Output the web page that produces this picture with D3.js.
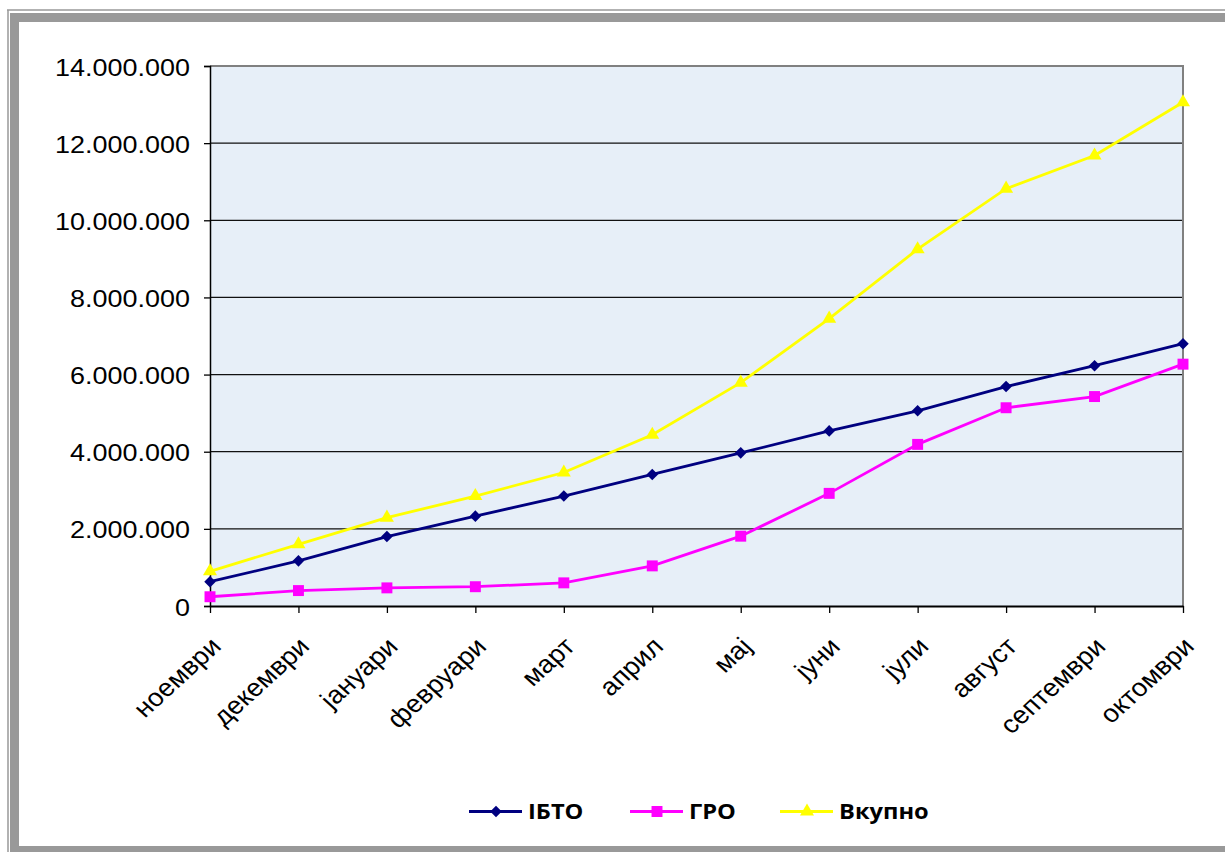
<!DOCTYPE html>
<html>
<head>
<meta charset="utf-8">
<script src="https://cdn.jsdelivr.net/npm/d3@7"></script>
<style>
  html, body { margin: 0; padding: 0; background: #fff; }
  svg { display: block; }
</style>
</head>
<body>
<svg id="chart" width="1225" height="852"></svg>
<script>
// Months on the category axis
const categories = ["ноември", "декември", "јануари", "февруари", "март", "април",
                    "мај", "јуни", "јули", "август", "септември", "октомври"];

// Cumulative values per month
const ibtoValues   = [630000, 1170000, 1800000, 2330000, 2850000, 3410000,
                      3970000, 4540000, 5060000, 5690000, 6230000, 6800000];
const groValues    = [240000, 400000, 470000, 500000, 600000, 1040000,
                      1810000, 2920000, 4190000, 5140000, 5430000, 6270000];
const vkupnoValues = [900000, 1600000, 2290000, 2850000, 3460000, 4440000,
                      5790000, 7450000, 9250000, 10820000, 11680000, 13060000];

const yTicks = [0, 2000000, 4000000, 6000000, 8000000, 10000000, 12000000, 14000000];
const seriesNames = ["ІБТО", "ГРО", "Вкупно"];

const series = [
  { name: seriesNames[0], values: ibtoValues,   color: "#000080", symbol: d3.symbolDiamond2, size: 85 },
  { name: seriesNames[1], values: groValues,    color: "#FF00FF", symbol: d3.symbolSquare,   size: 120 },
  { name: seriesNames[2], values: vkupnoValues, color: "#FFFF00", symbol: d3.symbolTriangle, size: 85 }
];

const svg = d3.select("#chart");
const plot = { left: 210, right: 1183, top: 66, bottom: 606 };
const stretch = 1.1; // horizontal text widening

const x = d3.scalePoint().domain(categories).range([plot.left, plot.right]);
const y = d3.scaleLinear().domain([0, 14000000]).range([plot.bottom, plot.top]);

const locale = d3.formatLocale({ decimal: ",", thousands: ".", grouping: [3], currency: ["", ""] });
const fmt = locale.format(",");

// Outer frame
const frame = svg.append("g");
frame.append("line").attr("x1", 7).attr("x2", 1225).attr("y1", 10).attr("y2", 10)
  .attr("stroke", "#999").attr("stroke-width", 1.5);
frame.append("line").attr("x1", 8).attr("x2", 8).attr("y1", 10).attr("y2", 852)
  .attr("stroke", "#999").attr("stroke-width", 1.5);
frame.append("rect").attr("x", 10).attr("y", 13).attr("width", 1215).attr("height", 9).attr("fill", "#999");
frame.append("rect").attr("x", 10).attr("y", 13).attr("width", 9).attr("height", 839).attr("fill", "#999");
frame.append("rect").attr("x", 10).attr("y", 846).attr("width", 1215).attr("height", 6).attr("fill", "#999");

// Plot background
svg.append("rect")
  .attr("x", plot.left).attr("y", plot.top)
  .attr("width", plot.right - plot.left).attr("height", plot.bottom - plot.top)
  .attr("fill", "#E7EFF8");

// Horizontal gridlines
svg.append("g").selectAll("line").data(yTicks.filter(d => d > 0 && d < 14000000)).join("line")
  .attr("x1", plot.left).attr("x2", plot.right)
  .attr("y1", d => y(d)).attr("y2", d => y(d))
  .attr("stroke", "#111").attr("stroke-width", 1.3);

// Plot border (top and right)
svg.append("path")
  .attr("d", `M${plot.left},${plot.top}H${plot.right}V${plot.bottom}`)
  .attr("fill", "none").attr("stroke", "#808080").attr("stroke-width", 2);

// Y axis
const yAxis = svg.append("g")
  .attr("transform", `translate(${plot.left},0)`)
  .call(d3.axisLeft(y).tickValues(yTicks).tickSize(6).tickFormat(fmt));
yAxis.select(".domain").attr("stroke", "#000").attr("stroke-width", 1.5);
yAxis.selectAll(".tick line").attr("stroke", "#000").attr("stroke-width", 1.3);
yAxis.selectAll(".tick text")
  .attr("x", null).attr("dy", null)
  .attr("font-family", "'Liberation Sans', Arial, sans-serif")
  .attr("font-size", 24.5).attr("fill", "#000")
  .attr("text-anchor", "end")
  .attr("transform", `translate(-20,9) scale(${stretch},1)`);

// X axis
const xAxis = svg.append("g")
  .attr("transform", `translate(0,${plot.bottom})`)
  .call(d3.axisBottom(x).tickSize(7).tickSizeOuter(0));
xAxis.select(".domain").attr("stroke", "#000").attr("stroke-width", 2);
xAxis.selectAll(".tick line").attr("stroke", "#000").attr("stroke-width", 1.3);
xAxis.selectAll(".tick text")
  .attr("y", null).attr("dy", null)
  .attr("font-family", "'Liberation Sans', Arial, sans-serif")
  .attr("font-size", 25).attr("fill", "#000")
  .attr("text-anchor", "end")
  .attr("transform", `translate(12,42) scale(${stretch},1) rotate(-45)`);

// Series lines and markers
const line = d3.line().x((d, i) => x(categories[i])).y(d => y(d));
series.forEach(s => {
  const g = svg.append("g");
  g.append("path").datum(s.values)
    .attr("d", line).attr("fill", "none")
    .attr("stroke", s.color).attr("stroke-width", 2.8);
  g.selectAll("path.m").data(s.values).join("path").attr("class", "m")
    .attr("d", d3.symbol().type(s.symbol).size(s.size))
    .attr("transform", (d, i) => `translate(${x(categories[i])},${y(d)})`)
    .attr("fill", s.color);
});

// Legend
const legendX = [469, 630, 780];
const legend = svg.append("g");
series.forEach((s, i) => {
  const lx = legendX[i];
  const ly = 811.5;
  legend.append("line").attr("x1", lx).attr("x2", lx + 53).attr("y1", ly).attr("y2", ly)
    .attr("stroke", s.color).attr("stroke-width", 2.8);
  legend.append("path")
    .attr("d", d3.symbol().type(s.symbol).size(s.size))
    .attr("transform", `translate(${lx + 27},${ly})`)
    .attr("fill", s.color);
  legend.append("text")
    .attr("transform", `translate(${lx + 59},${ly + 7.5}) scale(1.1,1)`)
    .attr("font-family", "'Open Sans', 'Noto Sans', sans-serif")
    .attr("font-weight", "bold").attr("font-size", 21.5).attr("fill", "#000")
    .text(s.name);
});
</script>
</body>
</html>
